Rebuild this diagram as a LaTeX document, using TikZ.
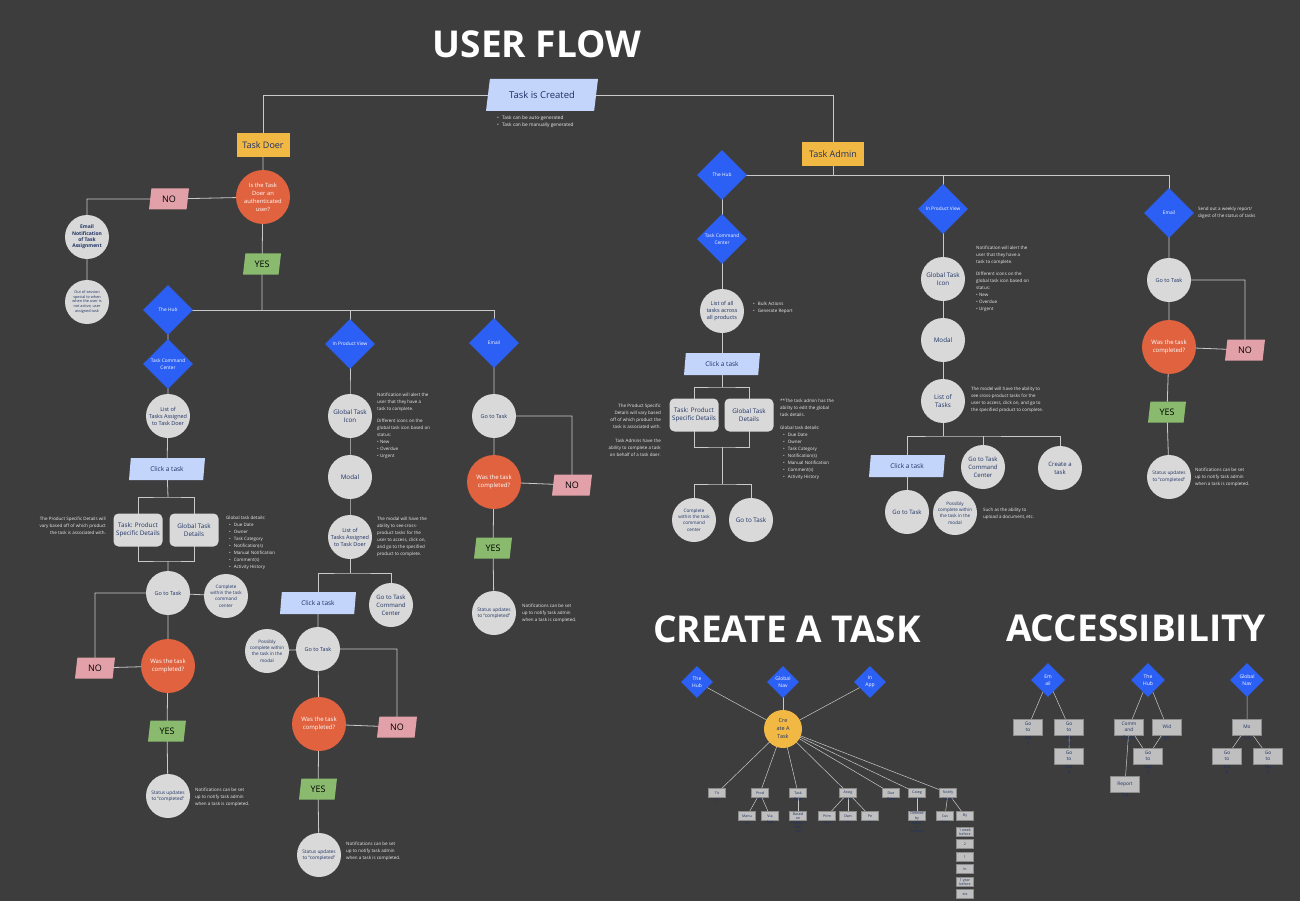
\documentclass[tikz,border=0pt]{standalone}
\usepackage{fontspec}
\setmainfont{Open Sans}
\usetikzlibrary{shapes.geometric}
\definecolor{bgc}{HTML}{3D3D3D}
\definecolor{linec}{HTML}{C9C9C9}
\definecolor{cblue}{HTML}{2C60F4}
\definecolor{corange}{HTML}{E0623F}
\definecolor{cgray}{HTML}{D9D9D9}
\definecolor{navy}{HTML}{1E3264}
\definecolor{cyel}{HTML}{F2B844}
\definecolor{cpink}{HTML}{E2A1A8}
\definecolor{cgreen}{HTML}{89BA6E}
\definecolor{clblue}{HTML}{C4D5FB}
\definecolor{notec}{HTML}{EDEDED}
\definecolor{boxg}{HTML}{BFBFBF}
\definecolor{boxd}{HTML}{8C8C8C}
\pgfdeclarelayer{background}
\pgfdeclarelayer{lines}
\pgfsetlayers{background,lines,main}
\newcommand{\fs}[2]{\fontsize{#1}{#2}\selectfont}
\newcommand{\bl}{\hspace*{3pt}•\hspace{3pt}}
\tikzset{
  base/.style={inner sep=0pt, align=center},
  ln/.style={draw=linec, line width=0.8pt},
  tln/.style={draw=linec, line width=0.5pt},
  gc/.style={base, circle, fill=cgray, minimum size=44pt, text=navy, font=\fs{5.5}{7}},
  oc/.style={base, circle, fill=corange, minimum size=54pt, text=white, font=\fs{6}{8}},
  dm/.style={base, diamond, fill=cblue, minimum width=50pt, minimum height=50pt, text=white, font=\fs{4.8}{7}},
  sdm/.style={base, diamond, fill=cblue, minimum width=32pt, minimum height=32pt, text=white, font=\fs{5}{6.5}},
  pg/.style={base, trapezium, trapezium left angle=70, trapezium right angle=110, trapezium stretches body, minimum height=21pt},
  nob/.style={pg, fill=cpink, minimum width=40pt, font=\fs{9}{10}, text=black},
  yesb/.style={pg, fill=cgreen, minimum width=38pt, font=\fs{9}{10}, text=black},
  clk/.style={pg, fill=clblue, minimum width=76pt, minimum height=22pt, font=\fs{6.5}{8}, text=navy},
  rb/.style={base, rectangle, rounded corners=5pt, fill=cgray, minimum width=49pt, minimum height=33pt, text=navy, font=\fs{6.3}{8.5}},
  hdr/.style={base, rectangle, fill=cyel, minimum height=24pt, text=navy, font=\fs{9}{10}},
  note/.style={base, anchor=north west, align=left, text=notec, font=\fs{4.5}{7}},
  title/.style={base, text=white, font=\fs{37}{42}\bfseries},
  sbox/.style={base, rectangle, fill=boxg, draw=boxd, line width=0.3pt, minimum width=17pt, minimum height=9pt, text=navy, font=\fs{3.6}{4.2}},
  abox/.style={base, rectangle, fill=boxg, draw=boxd, line width=0.3pt, minimum width=29pt, minimum height=16pt, text=navy, font=\fs{4.8}{6.5}},
  lbl/.style={text=navy, align=center, inner sep=0.5pt},
}
\begin{document}
\begin{tikzpicture}[x=1pt,y=-1pt]
\begin{pgfonlayer}{background}
\fill[bgc] (0,0) rectangle (1300,901);
\end{pgfonlayer}
\useasboundingbox (0,0) rectangle (1300,901);

% titles
\node[title] (t1) at (537,44) {USER FLOW};
\node[title] (t2) at (787,629) {CREATE A TASK};
\node[title] (t3) at (1136,628) {ACCESSIBILITY};

% top
\node[pg, trapezium left angle=62, trapezium right angle=118, fill=clblue, minimum width=112pt, minimum height=32pt, font=\fs{9.5}{11}, text=navy] (created) at (542,95) {Task is Created};
\node[note, font=\fs{4.8}{7}] (n0) at (497,116) {•\hspace{3pt}Task can be auto-generated\\•\hspace{3pt}Task can be manually generated};

% ---------- Task Doer column ----------
\node[hdr, minimum width=53pt] (doer) at (263,145) {Task Doer};
\node[oc, font=\fs{5.8}{8}] (auth) at (263,197) {Is the Task\\Doer an\\authenticated\\user?};
\node[nob] (no1) at (169,199) {NO};
\node[gc, font=\fs{5}{6.3}\bfseries] (email1) at (87,237) {Email\\Notification\\of Task\\Assignment};
\node[gc, font=\fs{3.8}{4.8}] (oos) at (87,302) {Out of session\\special to when\\when the user is\\not active, user\\assigned task};
\node[yesb] (yes1) at (262,264) {YES};
\node[dm] (hub1) at (168,310) {The Hub};
\node[dm] (tcc1) at (168,364) {Task Command\\Center};
\node[gc] (list1) at (168,416) {List of\\Tasks Assigned\\to Task Doer};
\node[clk] (click1) at (167,469) {Click a task};
\coordinate (b1) at (168,497);
\node[rb] (tpsd1) at (138,530) {Task: Product\\Specific Details};
\node[rb] (gtd1) at (194,530) {Global Task\\Details};
\coordinate (j1) at (168,561);
\node[note, anchor=north east, align=right] (n1) at (106,517) {The Product Specific Details will\\vary based off of which product\\the task is associated with.};
\node[note] (n2) at (226,516) {Global task details:\\\bl Due Date\\\bl Owner\\\bl Task Category\\\bl Notification(s)\\\bl Manual Notification\\\bl Comment(s)\\\bl Activity History};
\node[gc] (goto1) at (168,593) {Go to Task};
\node[gc, font=\fs{4.6}{6.2}] (cw1) at (226,596) {Complete\\within the task\\command\\center};
\node[nob] (no2) at (95,668) {NO};
\node[oc] (was1) at (168,666) {Was the task\\completed?};
\node[yesb] (yes2) at (167,731) {YES};
\node[gc, font=\fs{4.8}{6.5}] (stat1) at (168,796) {Status updates\\to “completed”};
\node[note] (n5) at (195,788) {Notifications can be set\\up to notify task admin\\when a task is completed.};

% ---------- In Product View (doer) ----------
\node[dm] (pv1) at (350,344) {In Product View};
\node[gc, font=\fs{6.3}{8}] (gti1) at (350,416) {Global Task\\Icon};
\node[note] (n3) at (377,393) {Notification will alert the\\user that they have a\\task to complete.\\[5pt]Different icons on the\\global task icon based on\\status:\\• New\\• Overdue\\• Urgent};
\node[gc, font=\fs{6.3}{8}] (modal1) at (350,477) {Modal};
\node[gc] (list2) at (350,537) {List of\\Tasks Assigned\\to Task Doer};
\node[note] (n4) at (377,517) {The modal will have the\\ability to see cross-\\product tasks for the\\user to access, click on,\\and go to the specified\\product to complete.};
\coordinate (b2) at (350,573);
\node[clk] (click2) at (318,603) {Click a task};
\node[gc, font=\fs{6}{7.8}] (gtcc1) at (391,605) {Go to Task\\Command\\Center};
\node[gc] (goto2) at (318,649) {Go to Task};
\node[gc, font=\fs{4.6}{6.2}] (poss1) at (267,651) {Possibly\\complete within\\the task in the\\modal};
\node[nob] (no3) at (397,727) {NO};
\node[oc] (was2) at (319,724) {Was the task\\completed?};
\node[yesb] (yes3) at (318,789) {YES};
\node[gc, font=\fs{4.8}{6.5}] (stat2) at (319,855) {Status updates\\to “completed”};
\node[note] (n6) at (346,842) {Notifications can be set\\up to notify task admin\\when a task is completed.};

% ---------- Email (doer) ----------
\node[dm] (email2) at (494,343) {Email};
\node[gc] (goto3) at (494,416) {Go to Task};
\node[nob] (no4) at (572,485) {NO};
\node[oc] (was3) at (494,482) {Was the task\\completed?};
\node[yesb] (yes4) at (493,548) {YES};
\node[gc, font=\fs{4.8}{6.5}] (stat3) at (494,613) {Status updates\\to “completed”};
\node[note] (n7) at (522,604) {Notifications can be set\\up to notify task admin\\when a task is completed.};

% ---------- Task Admin ----------
\node[hdr, minimum width=62pt] (admin) at (833,154) {Task Admin};
\node[dm] (hub2) at (722,175) {The Hub};
\node[dm] (tcc2) at (722,239) {Task Command\\Center};
\node[gc] (listall) at (722,311) {List of all\\tasks across\\all products};
\node[note] (n9) at (750,302) {\bl Bulk Actions\\\bl Generate Report};
\node[clk] (click3) at (722,364) {Click a task};
\coordinate (b3) at (722,387);
\node[rb] (tpsd2) at (694,415) {Task: Product\\Specific Details};
\node[rb] (gtd2) at (749,415) {Global Task\\Details};
\coordinate (j3) at (722,447);
\coordinate (b4) at (722,484);
\node[gc, font=\fs{4.6}{6.2}] (cw2) at (694,520) {Complete\\within the task\\command\\center};
\node[gc, font=\fs{6.3}{8}] (goto4) at (751,520) {Go to Task};
\node[note, anchor=north east, align=right] (n10) at (661,404) {The Product Specific\\Details will vary based\\off of which product the\\task is associated with.\\[7pt]Task Admins have the\\ability to complete a task\\on behalf of a task doer.};
\node[note] (n11) at (780,399) {**The task admin has the\\ability to edit the global\\task details.\\[6pt]Global task details:\\\bl Due Date\\\bl Owner\\\bl Task Category\\\bl Notification(s)\\\bl Manual Notification\\\bl Comment(s)\\\bl Activity History};

\node[dm] (pv2) at (943,209) {In Product View};
\node[gc, font=\fs{6.3}{8}] (gti2) at (943,279) {Global Task\\Icon};
\node[note] (n12) at (976,246) {Notification will alert the\\user that they have a\\task to complete.\\[5pt]Different icons on the\\global task icon based on\\status:\\• New\\• Overdue\\• Urgent};
\node[gc, font=\fs{6.3}{8}] (modal2) at (943,340) {Modal};
\node[gc, font=\fs{6.3}{8}] (list3) at (943,401) {List of\\Tasks};
\node[note] (n13) at (971,387) {The model will have the ability to\\see cross-product tasks for the\\user to access, click on, and go to\\the specified product to complete.};
\coordinate (b5) at (943,436);
\node[clk] (click4) at (907,466) {Click a task};
\node[gc, font=\fs{6}{7.8}] (gtcc2) at (983,467) {Go to Task\\Command\\Center};
\node[gc, font=\fs{6}{7.8}] (create1) at (1060,468) {Create a\\task};
\node[gc, font=\fs{6}{7.8}] (goto5) at (907,512) {Go to Task};
\node[gc, font=\fs{4.6}{6.2}] (poss2) at (955,513) {Possibly\\complete within\\the task in the\\modal};
\node[note] (n14) at (983,508) {Such as the ability to\\upload a document, etc.};

\node[dm] (email3) at (1169,213) {Email};
\node[note] (n15) at (1198,207) {Send out a weekly report/\\digest of the status of tasks};
\node[gc] (goto6) at (1169,280) {Go to Task};
\node[nob] (no5) at (1245,350) {NO};
\node[oc] (was4) at (1169,347) {Was the task\\completed?};
\node[yesb] (yes5) at (1167,412) {YES};
\node[gc, font=\fs{4.8}{6.5}] (stat4) at (1169,477) {Status updates\\to “completed”};
\node[note] (n8) at (1195,468) {Notifications can be set\\up to notify task admin\\when a task is completed.};

% ---------- CREATE A TASK ----------
\node[sdm] (d1) at (697,682) {The\\Hub};
\node[sdm] (d2) at (783,682) {Global\\Nav};
\node[sdm] (d3) at (870,682) {In\\App};
\node[base, circle, fill=cyel, minimum size=38pt, text=navy, font=\fs{5.5}{8}] (cat) at (783,729) {Cre\\ate A\\Task};
\node[sbox, label={[lbl, font=\fs{3.6}{4.2}]below:le}] (c1) at (717,793) {Tit};
\node[sbox, label={[lbl, font=\fs{3.6}{4.2}]below:uct}] (c2) at (760,793) {Prod};
\node[sbox, label={[lbl, font=\fs{3.6}{4.2}]below:Type}] (c3) at (798,793) {Task};
\node[sbox, label={[lbl, font=\fs{3.6}{4.2}]below:nee}] (c4) at (848,793) {Assig};
\node[sbox, label={[lbl, font=\fs{3.6}{4.2}]below:Date}] (c5) at (891,793) {Due};
\node[sbox, label={[lbl, font=\fs{3.6}{4.2}]below:ory}] (c6) at (917,793) {Categ};
\node[sbox, label={[lbl, font=\fs{3.6}{4.2}]below:Users}] (c7) at (948,793) {Notify};
\node[sbox, label={[lbl, font=\fs{3.6}{4.2}]below:al}] (c21) at (747,816) {Manu};
\node[sbox, label={[lbl, font=\fs{3.6}{4.2}]below:App}] (c22) at (770,816) {Via};
\node[sbox, label={[lbl, font=\fs{3.6}{4.2}]below:{Product\\Selec\\ted}}] (c31) at (798,816) {Based\\on};
\node[sbox, label={[lbl, font=\fs{3.6}{4.2}]below:ary}] (c41) at (827,816) {Prim};
\node[sbox, label={[lbl, font=\fs{3.6}{4.2}]below:er}] (c42) at (848,816) {Own};
\node[sbox, label={[lbl, font=\fs{3.6}{4.2}]below:er}] (c43) at (870,816) {Pe};
\node[sbox, label={[lbl, font=\fs{3.6}{4.2}]below:{Admin\\in\\Settings}}] (c61) at (917,816) {Defined\\by};
\node[sbox, label={[lbl, font=\fs{3.6}{4.2}]below:tom}] (c71) at (945,816) {Cus};
\node[sbox] (c72) at (965,816) {By};
\node[sbox] (s1) at (965,832) {1 week\\before};
\node[sbox] (s2) at (965,844) {2};
\node[sbox] (s3) at (965,857) {1};
\node[sbox] (s4) at (965,869) {In};
\node[sbox] (s5) at (965,882) {1 year\\before};
\node[sbox] (s6) at (965,894) {etc};

% ---------- ACCESSIBILITY ----------
\node[sdm, minimum width=34pt, minimum height=34pt] (ae) at (1048,680) {Em\\ail};
\node[sdm, minimum width=34pt, minimum height=34pt] (ah) at (1148,680) {The\\Hub};
\node[sdm, minimum width=34pt, minimum height=34pt] (ag) at (1247,680) {Global\\Nav};
\node[abox, label={[lbl, font=\fs{4.8}{6.5}]below:{tas\\k}}] (a1) at (1028,727) {Go\\to};
\node[abox, label={[lbl, font=\fs{4.8}{6.5}]below:{Hu\\b}}] (a2) at (1069,727) {Go\\to};
\node[abox, label={[lbl, font=\fs{4.8}{6.5}]below:{tas\\k}}] (a3) at (1069,756) {Go\\to};
\node[abox, label={[lbl, font=\fs{4.8}{6.5}]below:{Cente\\r}}] (a4) at (1129,727) {Comm\\and};
\node[abox, label={[lbl, font=\fs{4.8}{6.5}]below:get}] (a5) at (1167,727) {Wid};
\node[abox, label={[lbl, font=\fs{4.8}{6.5}]below:{tas\\k}}] (a6) at (1148,756) {Go\\to};
\node[abox, label={[lbl, font=\fs{4.8}{6.5}]below:ing}] (a7) at (1125,784) {Report};
\node[abox, label={[lbl, font=\fs{4.8}{6.5}]below:dal}] (a8) at (1247,727) {Mo};
\node[abox, label={[lbl, font=\fs{4.8}{6.5}]below:{tas\\k}}] (a9) at (1227,756) {Go\\to};
\node[abox, label={[lbl, font=\fs{4.8}{6.5}]below:{Hu\\b}}] (a10) at (1268,756) {Go\\to};

% ---------- connectors ----------
\begin{pgfonlayer}{lines}
\draw[ln] (created.center) -| (doer.center);
\draw[ln] (created.center) -| (admin.center);
% doer
\draw[ln] (doer.center) -- (auth.center) -- (yes1.center) -- (yes1 |- hub1);
\draw[ln] (auth.center) -- (no1.center) -| (email1.center) -- (oos.center);
\draw[ln] (hub1.center) -- (email2 |- hub1) -- (email2.center);
\draw[ln] (pv1 |- hub1) -- (pv1.center);
\draw[ln] (hub1.center) -- (tcc1.center) -- (list1.center) -- (click1.center) -- (b1);
\draw[ln] (tpsd1.center) |- (b1) -| (gtd1.center);
\draw[ln] (tpsd1.center) |- (j1) -| (gtd1.center);
\draw[ln] (j1) -- (goto1.center) -- (was1.center) -- (yes2.center) -- (stat1.center);
\draw[ln] (goto1.center) -- (cw1.center);
\draw[ln] (goto1.center) -| (no2.center) -- (was1.center);
% product view (doer)
\draw[ln] (pv1.center) -- (gti1.center) -- (modal1.center) -- (list2.center) -- (b2);
\draw[ln] (click2.center) |- (b2) -| (gtcc1.center);
\draw[ln] (click2.center) -- (goto2.center) -- (was2.center) -- (yes3.center) -- (stat2.center);
\draw[ln] (poss1.center) -- (goto2.center);
\draw[ln] (goto2.center) -| (no3.center) -- (was2.center);
% email (doer)
\draw[ln] (email2.center) -- (goto3.center) -- (was3.center) -- (yes4.center) -- (stat3.center);
\draw[ln] (goto3.center) -| (no4.center) -- (was3.center);
% admin
\draw[ln] (admin.center) -- (admin |- hub2);
\draw[ln] (hub2.center) -- (email3 |- hub2) -- (email3.center);
\draw[ln] (pv2 |- hub2) -- (pv2.center);
\draw[ln] (hub2.center) -- (tcc2.center) -- (listall.center) -- (click3.center) -- (b3);
\draw[ln] (tpsd2.center) |- (b3) -| (gtd2.center);
\draw[ln] (tpsd2.center) |- (j3) -| (gtd2.center);
\draw[ln] (j3) -- (b4);
\draw[ln] (cw2.center) |- (b4) -| (goto4.center);
\draw[ln] (pv2.center) -- (gti2.center) -- (modal2.center) -- (list3.center) -- (b5);
\draw[ln] (click4.center) |- (b5) -| (create1.center);
\draw[ln] (gtcc2.center) -- (gtcc2 |- b5);
\draw[ln] (click4.center) -- (goto5.center);
\draw[ln] (email3.center) -- (goto6.center) -- (was4.center) -- (yes5.center) -- (stat4.center);
\draw[ln] (goto6.center) -| (no5.center) -- (was4.center);
% create a task
\foreach \d in {d1,d2,d3,c1,c2,c3,c4,c5,c6,c7} \draw[tln] (cat.center) -- (\d.center);
\foreach \d in {c21,c22} \draw[tln] (c2.center) -- (\d.center);
\draw[tln] (c3.center) -- (c31.center);
\foreach \d in {c41,c42,c43} \draw[tln] (c4.center) -- (\d.center);
\draw[tln] (c6.center) -- (c61.center);
\foreach \d in {c71,c72} \draw[tln] (c7.center) -- (\d.center);
% accessibility
\draw[tln] (ae.center) -- (a1.center);
\draw[tln] (ae.center) -- (a2.center) -- (a3.center);
\draw[tln] (ah.center) -- (a4.center) -- (a6.center);
\draw[tln] (ah.center) -- (a5.center) -- (a6.center);
\draw[tln] (a4.center) -- (a7.center);
\draw[tln] (ag.center) -- (a8.center) -- (a9.center);
\draw[tln] (a8.center) -- (a10.center);
\end{pgfonlayer}
\end{tikzpicture}
\end{document}
